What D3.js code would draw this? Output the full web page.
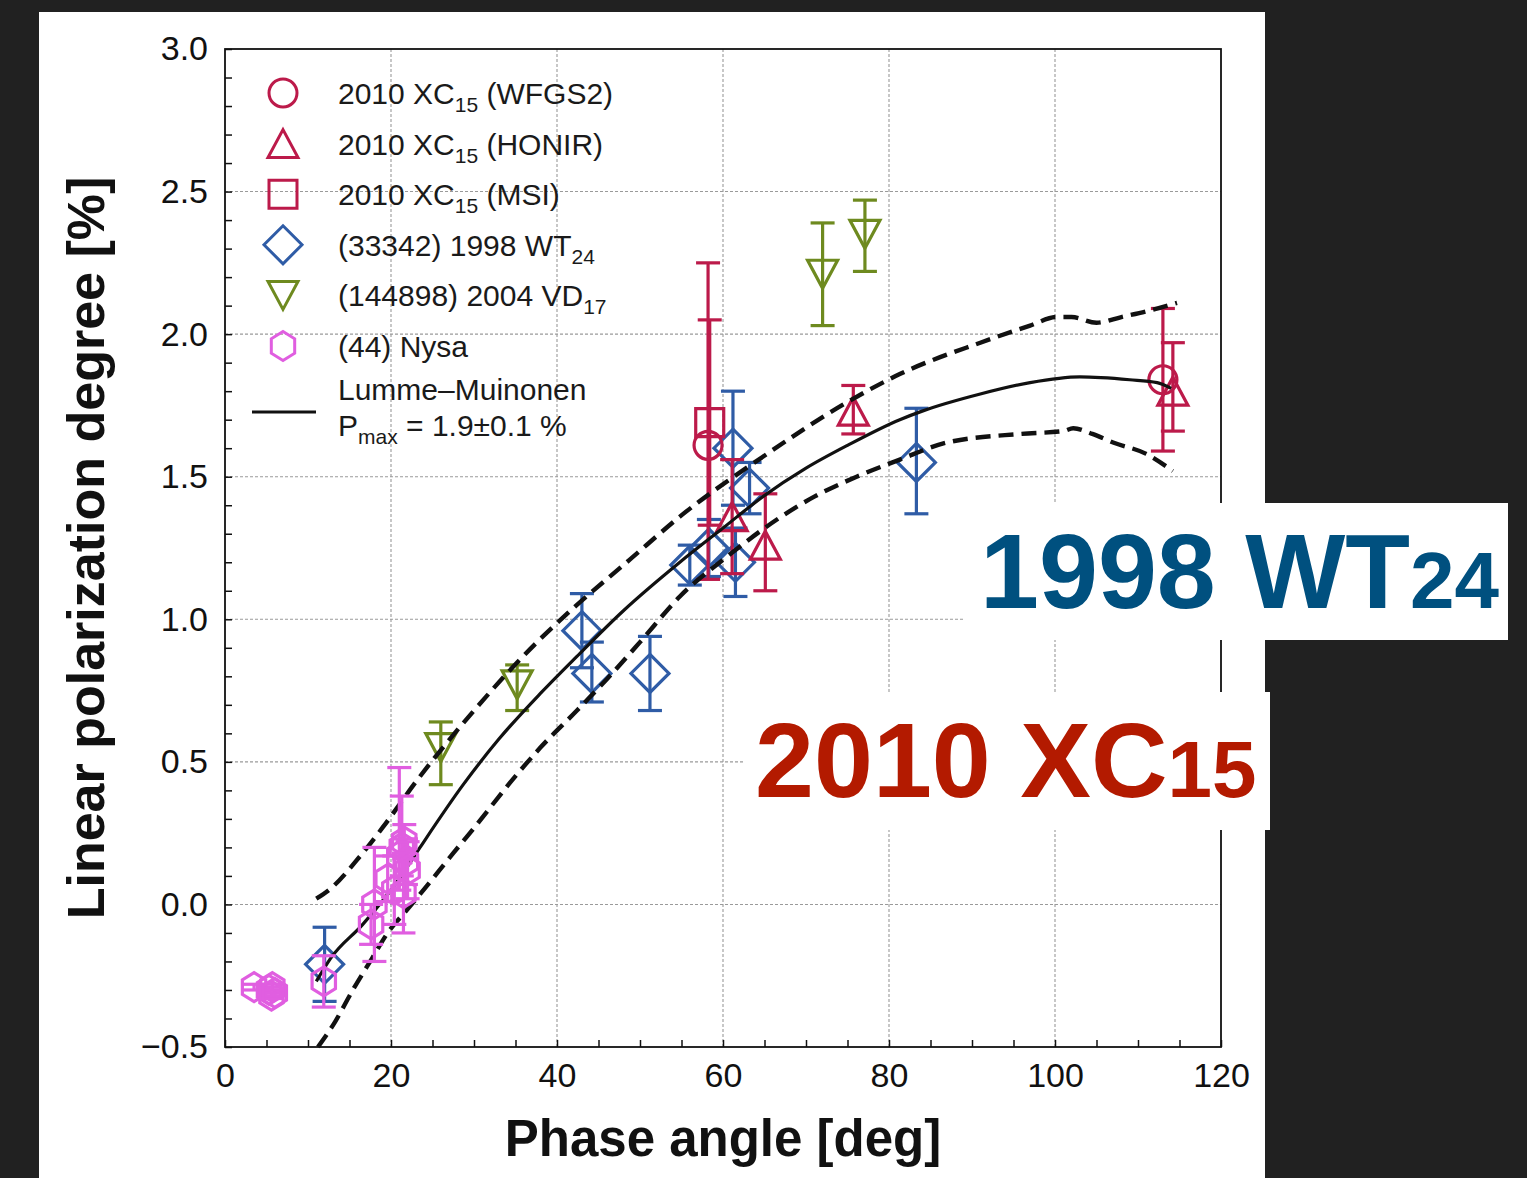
<!DOCTYPE html>
<html><head><meta charset="utf-8">
<script src="https://cdn.jsdelivr.net/npm/d3@7"></script>
<style>
html,body{margin:0;padding:0;background:#212121;}
svg{display:block;}
text{font-family:"Liberation Sans",Arial,Helvetica,sans-serif;}
</style></head><body>
<svg id="chart" width="1527" height="1178"></svg>
<script>
// ---- observations: phase angle a [deg], polarization p [%], lower / upper error ----
const xc15Wfgs2 = [
  {a: 58.2, p: 1.61, lo: 0.47, hi: 0.64},
  {a: 113.0, p: 1.84, lo: 0.25, hi: 0.25}
];
const xc15Honir = [
  {a: 61.1, p: 1.36, lo: 0.20, hi: 0.20},
  {a: 65.1, p: 1.26, lo: 0.16, hi: 0.18},
  {a: 75.7, p: 1.73, lo: 0.08, hi: 0.09},
  {a: 114.2, p: 1.80, lo: 0.14, hi: 0.17}
];
const xc15Msi = [
  {a: 58.4, p: 1.69, lo: 0.36, hi: 0.36}
];
const wt24 = [
  {a: 12.0, p: -0.21, lo: 0.13, hi: 0.13},
  {a: 43.0, p: 0.96, lo: 0.13, hi: 0.13},
  {a: 44.2, p: 0.81, lo: 0.10, hi: 0.11},
  {a: 51.2, p: 0.81, lo: 0.13, hi: 0.13},
  {a: 56.0, p: 1.19, lo: 0.07, hi: 0.07},
  {a: 58.3, p: 1.25, lo: 0.10, hi: 0.10},
  {a: 61.2, p: 1.60, lo: 0.20, hi: 0.20},
  {a: 61.5, p: 1.20, lo: 0.12, hi: 0.12},
  {a: 63.2, p: 1.46, lo: 0.09, hi: 0.09},
  {a: 83.3, p: 1.55, lo: 0.18, hi: 0.19}
];
const vd17 = [
  {a: 26.0, p: 0.55, lo: 0.13, hi: 0.09},
  {a: 35.2, p: 0.77, lo: 0.09, hi: 0.07},
  {a: 72.0, p: 2.21, lo: 0.18, hi: 0.18},
  {a: 77.1, p: 2.35, lo: 0.13, hi: 0.12}
];
const nysa = [
  {a: 3.5, p: -0.29, lo: 0.01, hi: 0.01},
  {a: 5.3, p: -0.30, lo: 0.01, hi: 0.01},
  {a: 5.7, p: -0.29, lo: 0.01, hi: 0.01},
  {a: 5.6, p: -0.32, lo: 0.01, hi: 0.01},
  {a: 6.0, p: -0.31, lo: 0.01, hi: 0.01},
  {a: 11.9, p: -0.27, lo: 0.09, hi: 0.09},
  {a: 17.6, p: -0.07, lo: 0.07, hi: 0.07},
  {a: 18.0, p: 0.00, lo: 0.20, hi: 0.20},
  {a: 19.6, p: 0.09, lo: 0.08, hi: 0.08},
  {a: 20.4, p: 0.05, lo: 0.12, hi: 0.12},
  {a: 21.0, p: 0.17, lo: 0.12, hi: 0.31},
  {a: 21.3, p: 0.20, lo: 0.10, hi: 0.18},
  {a: 21.6, p: 0.22, lo: 0.06, hi: 0.06},
  {a: 21.8, p: 0.15, lo: 0.08, hi: 0.08},
  {a: 21.5, p: 0.04, lo: 0.14, hi: 0.14},
  {a: 22.0, p: 0.12, lo: 0.10, hi: 0.10}
];

// ---- Lumme–Muinonen fit and its uncertainty envelope [deg, %] ----
const lmFit = [
  [11, -0.27], [12.7, -0.19], [16.6, -0.07], [21, 0.09], [23.5, 0.20], [28.7, 0.42],
  [33, 0.58], [38, 0.74], [42.4, 0.87], [48, 1.03], [54.8, 1.20], [60, 1.32],
  [64.8, 1.43], [70, 1.53], [75, 1.61], [81.3, 1.70], [84, 1.73], [91, 1.79],
  [97, 1.83], [103, 1.85], [109, 1.84], [112.3, 1.83], [114, 1.81]
];
const lmUpper = [
  [11, 0.02], [12.5, 0.05], [16.3, 0.17], [19, 0.27], [23, 0.43], [30, 0.68],
  [37.6, 0.92], [42, 1.04], [48.8, 1.21], [54.8, 1.36], [64.8, 1.57], [74.9, 1.76],
  [81.3, 1.86], [91, 1.97], [97, 2.03], [100.2, 2.06], [102, 2.06], [105, 2.04],
  [108, 2.06], [111, 2.08], [114.7, 2.11]
];
const lmLower = [
  [11.2, -0.50], [13.3, -0.41], [15.4, -0.30], [17.7, -0.19], [19.6, -0.10],
  [21.9, -0.02], [23.9, 0.05], [27.5, 0.18], [29.5, 0.25], [35, 0.45], [38, 0.55],
  [42.4, 0.68], [46, 0.79], [50, 0.92], [54.8, 1.08], [60.5, 1.22], [66.5, 1.35],
  [71, 1.43], [76.1, 1.50], [81.3, 1.56], [87, 1.62], [95.8, 1.65], [101, 1.66],
  [102.2, 1.67], [104.5, 1.65], [107, 1.62], [111, 1.58], [114.2, 1.52]
];

// ---- axis ticks ----
const xTicks = [0, 20, 40, 60, 80, 100, 120];
const xMinor = d3.range(0, 121, 5);
const yTicks = [-0.5, 0.0, 0.5, 1.0, 1.5, 2.0, 2.5, 3.0];
const yMinor = d3.range(-5, 31, 1).map(v => v / 10);

// ---- colours ----
const cXC = "#bc1a4a", cWT = "#2f5ca6", cVD = "#6e8a1f", cNY = "#e05ee0";

const svg = d3.select("#chart");
svg.append("rect").attr("x", 39).attr("y", 12).attr("width", 1226).attr("height", 1166).attr("fill", "#fff");

const x = d3.scaleLinear().domain([0, 120]).range([225, 1221]);
const y = d3.scaleLinear().domain([-0.5, 3]).range([1047, 49]);

// grid
const grid = svg.append("g").attr("stroke", "#9a9a9a").attr("stroke-width", 1.1).attr("stroke-dasharray", "3,2");
grid.selectAll("line.v").data(xTicks.slice(1, -1)).join("line")
  .attr("x1", d => x(d)).attr("x2", d => x(d)).attr("y1", y(3)).attr("y2", y(-0.5));
grid.selectAll("line.h").data(yTicks.slice(1, -1)).join("line")
  .attr("y1", d => y(d)).attr("y2", d => y(d)).attr("x1", x(0)).attr("x2", x(120));

// minor tick marks pointing inward
const xAxisMinor = svg.append("g").attr("transform", `translate(0,${y(-0.5)})`)
  .call(d3.axisBottom(x).tickValues(xMinor).tickSize(-7).tickFormat(""));
const yAxisMinor = svg.append("g").attr("transform", `translate(${x(0)},0)`)
  .call(d3.axisLeft(y).tickValues(yMinor).tickSize(-7).tickFormat(""));
[xAxisMinor, yAxisMinor].forEach(g => {
  g.select(".domain").remove();
  g.selectAll("line").attr("stroke", "#111").attr("stroke-width", 1.5);
});

// tick labels
const xAxis = svg.append("g").attr("transform", `translate(0,${y(-0.5)})`)
  .call(d3.axisBottom(x).tickValues(xTicks).tickSize(0).tickPadding(16).tickFormat(d3.format("d")));
const yAxis = svg.append("g").attr("transform", `translate(${x(0)},0)`)
  .call(d3.axisLeft(y).tickValues(yTicks).tickSize(0).tickPadding(17).tickFormat(d3.format(".1f")));
[xAxis, yAxis].forEach(g => {
  g.select(".domain").remove();
  g.selectAll("text").attr("font-size", 34).attr("fill", "#111")
    .attr("font-family", "'Liberation Sans', Arial, sans-serif");
});

// frame
svg.append("rect").attr("x", x(0)).attr("y", y(3)).attr("width", x(120) - x(0)).attr("height", y(-0.5) - y(3))
  .attr("fill", "none").attr("stroke", "#111").attr("stroke-width", 1.8);

// axis titles
svg.append("text").attr("x", (x(0) + x(120)) / 2).attr("y", 1156).attr("text-anchor", "middle")
  .attr("font-size", 51).attr("font-weight", "bold").attr("fill", "#111").text("Phase angle [deg]");
svg.append("text").attr("transform", `translate(104,${(y(3) + y(-0.5)) / 2}) rotate(-90)`).attr("text-anchor", "middle")
  .attr("font-size", 52).attr("font-weight", "bold").attr("fill", "#111").text("Linear polarization degree [%]");

// marker shapes centred on (0,0)
const shapes = {
  circle: "M14,0A14,14 0 1,1 -14,0A14,14 0 1,1 14,0Z",
  triUp: "M0,-14L15,14L-15,14Z",
  square: "M-14,-14H14V14H-14Z",
  diamond: "M0,-19L19,0L0,19L-19,0Z",
  triDown: "M0,14L15,-14L-15,-14Z",
  hexagon: (() => {
    const pts = d3.range(6).map(i => {
      const t = (-90 + 60 * i) * Math.PI / 180;
      return [13.5 * Math.cos(t), 14.5 * Math.sin(t)];
    });
    return "M" + pts.map(p => p.join(",")).join("L") + "Z";
  })()
};

function drawSeries(data, shape, color) {
  const g = svg.append("g").attr("stroke", color).attr("fill", "none").attr("stroke-width", 3.2);
  const item = g.selectAll("g").data(data).join("g");
  item.append("line").attr("x1", d => x(d.a)).attr("x2", d => x(d.a))
    .attr("y1", d => y(d.p - d.lo)).attr("y2", d => y(d.p + d.hi));
  item.append("line").attr("x1", d => x(d.a) - 12).attr("x2", d => x(d.a) + 12)
    .attr("y1", d => y(d.p - d.lo)).attr("y2", d => y(d.p - d.lo));
  item.append("line").attr("x1", d => x(d.a) - 12).attr("x2", d => x(d.a) + 12)
    .attr("y1", d => y(d.p + d.hi)).attr("y2", d => y(d.p + d.hi));
  item.append("path").attr("d", shapes[shape])
    .attr("transform", d => `translate(${x(d.a)},${y(d.p)})`);
}

drawSeries(vd17, "triDown", cVD);
drawSeries(wt24, "diamond", cWT);
drawSeries(xc15Honir, "triUp", cXC);
drawSeries(xc15Msi, "square", cXC);
drawSeries(xc15Wfgs2, "circle", cXC);

// model curves
const line = d3.line().x(d => x(d[0])).y(d => y(d[1])).curve(d3.curveMonotoneX);
svg.append("path").datum(lmUpper).attr("d", line).attr("fill", "none").attr("stroke", "#111")
  .attr("stroke-width", 4.4).attr("stroke-dasharray", "15,8");
svg.append("path").datum(lmLower).attr("d", line).attr("fill", "none").attr("stroke", "#111")
  .attr("stroke-width", 4.4).attr("stroke-dasharray", "15,8");
svg.append("path").datum(lmFit).attr("d", line).attr("fill", "none").attr("stroke", "#111")
  .attr("stroke-width", 3.2);

drawSeries(nysa, "hexagon", cNY);

// legend
const legendRows = [
  {shape: "circle", color: cXC, parts: [["2010 XC"], ["15", true], [" (WFGS2)"]]},
  {shape: "triUp", color: cXC, parts: [["2010 XC"], ["15", true], [" (HONIR)"]]},
  {shape: "square", color: cXC, parts: [["2010 XC"], ["15", true], [" (MSI)"]]},
  {shape: "diamond", color: cWT, parts: [["(33342) 1998 WT"], ["24", true]]},
  {shape: "triDown", color: cVD, parts: [["(144898) 2004 VD"], ["17", true]]},
  {shape: "hexagon", color: cNY, parts: [["(44) Nysa"]]}
];
const legend = svg.append("g");
legendRows.forEach((r, i) => {
  const cy = 93 + i * 50.6;
  legend.append("path").attr("d", shapes[r.shape]).attr("transform", `translate(283,${cy})`)
    .attr("fill", "none").attr("stroke", r.color).attr("stroke-width", 3);
  const t = legend.append("text").attr("x", 338).attr("y", cy + 11).attr("font-size", 30).attr("fill", "#1a1a1a");
  let shifted = false;
  r.parts.forEach(([s, sub]) => {
    const ts = t.append("tspan").text(s);
    if (sub) { ts.attr("font-size", 21).attr("dy", 8); shifted = true; }
    else if (shifted) { ts.attr("dy", -8); shifted = false; }
  });
});
legend.append("line").attr("x1", 252).attr("x2", 316).attr("y1", 412).attr("y2", 412)
  .attr("stroke", "#111").attr("stroke-width", 3.2);
legend.append("text").attr("x", 338).attr("y", 400).attr("font-size", 30).attr("fill", "#1a1a1a").text("Lumme–Muinonen");
const pm = legend.append("text").attr("x", 338).attr("y", 436).attr("font-size", 30).attr("fill", "#1a1a1a");
pm.append("tspan").text("P");
pm.append("tspan").attr("font-size", 21).attr("dy", 8).text("max");
pm.append("tspan").attr("dy", -8).text(" = 1.9±0.1 %");

// object name captions
function caption(bx, by, bw, bh, tx, ty, main, sub, color) {
  svg.append("rect").attr("x", bx).attr("y", by).attr("width", bw).attr("height", bh).attr("fill", "#fff");
  const t = svg.append("text").attr("x", tx).attr("y", ty).attr("font-size", 106)
    .attr("font-weight", "bold").attr("fill", color);
  t.append("tspan").text(main);
  t.append("tspan").attr("font-size", 80).text(sub);
}
caption(965, 503, 543, 137, 980, 608, "1998 WT", "24", "#00507f");
caption(745, 692, 525, 138, 755, 797, "2010 XC", "15", "#b31a00");
</script>
</body></html>
